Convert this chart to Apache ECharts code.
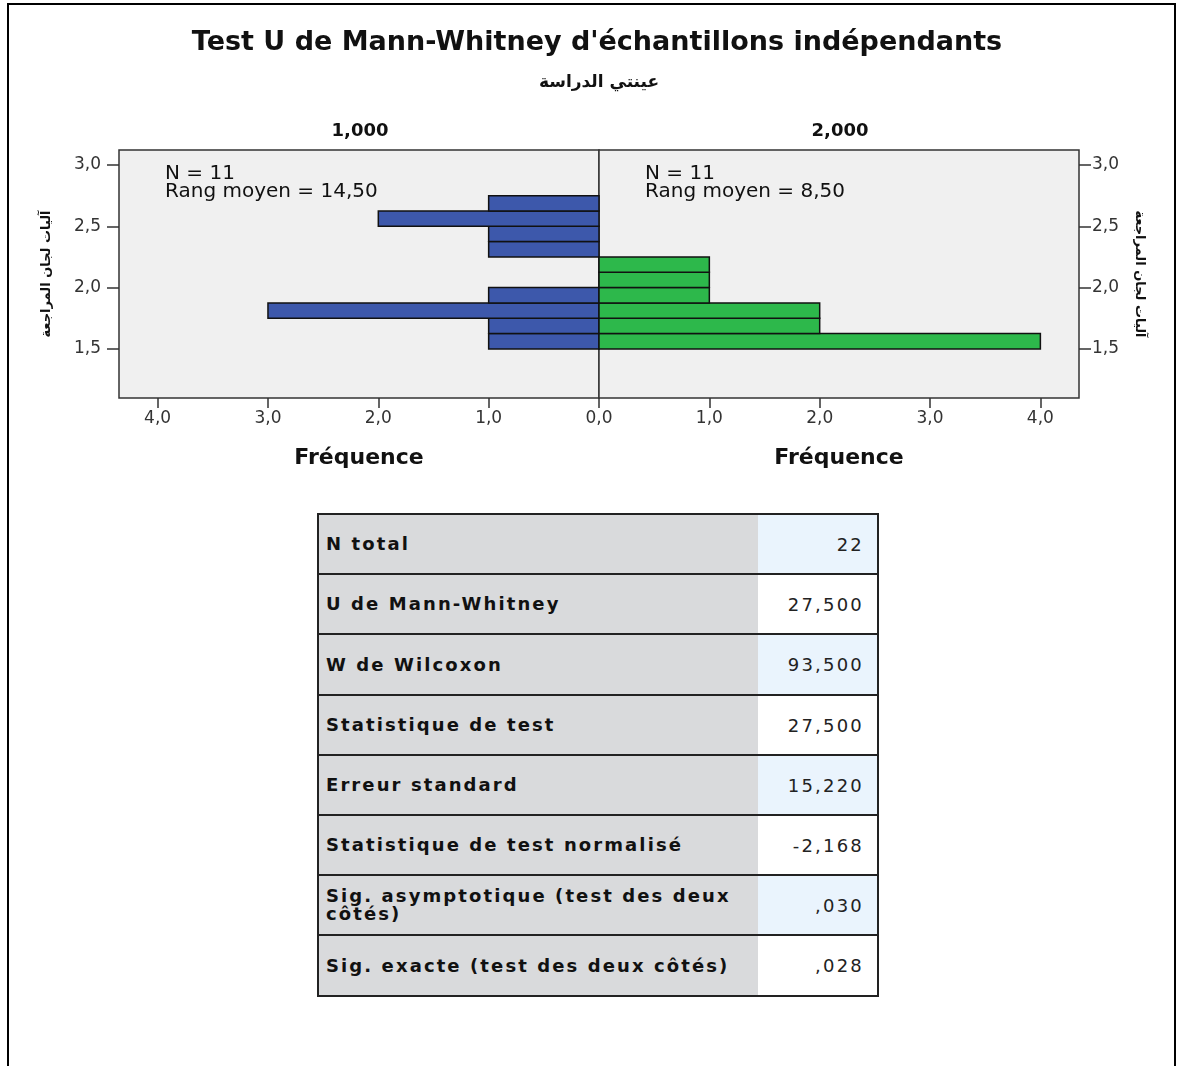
<!DOCTYPE html>
<html>
<head>
<meta charset="utf-8">
<script src="https://cdn.jsdelivr.net/npm/echarts@6/dist/echarts.min.js"></script>
<style>
  html, body { margin:0; padding:0; background:#fff; }
  #frame { position:absolute; left:7px; top:3px; width:1169px; height:1100px; border:2px solid #000; border-bottom:none; box-sizing:border-box; }
  #chart { position:absolute; left:0; top:0; width:1182px; height:490px; }
  #table { position:absolute; left:317px; top:513px; width:562px; }
  .row { position:absolute; left:0; width:562px; box-sizing:border-box; border:2px solid #222; border-top:none; }
  .row.first { border-top:2px solid #222; }
  .lab { position:absolute; left:0; top:0; bottom:0; width:439px; background:#d9dadc; display:flex; align-items:center; padding-left:7px; box-sizing:border-box;
         font-family:"DejaVu Sans"; font-weight:bold; font-size:18px; letter-spacing:2.1px; color:#111; line-height:18px; }
  .val { position:absolute; left:439px; right:0; top:0; bottom:0; display:flex; align-items:center; justify-content:flex-end; padding-right:13px; box-sizing:border-box;
         font-family:"DejaVu Sans"; font-size:18px; letter-spacing:2.2px; color:#222; }
  .blue { background:#eaf4fd; }
</style>
</head>
<body>
<div id="frame"></div>
<div id="chart"></div>
<div id="table"></div>
<script>
// ---- data ----
const binLow  = [1.5, 1.625, 1.75, 1.875, 2.0, 2.125, 2.25, 2.375, 2.5, 2.625];
const binHigh = [1.625, 1.75, 1.875, 2.0, 2.125, 2.25, 2.375, 2.5, 2.625, 2.75];
const group1Counts = [1, 1, 3, 1, 0, 0, 1, 1, 2, 1];   // 1,000 (blue)
const group2Counts = [4, 2, 2, 1, 1, 1, 0, 0, 0, 0];   // 2,000 (green)
const groupNames = ['1,000', '2,000'];
const groupN = ['11', '11'];
const groupMeanRank = ['14,50', '8,50'];
const yTicks = [1.5, 2.0, 2.5, 3.0];
const xTicksLeft = [0, 1, 2, 3, 4];
const xTicksRight = [1, 2, 3, 4];
const statLabels = ['N total', 'U de Mann-Whitney', 'W de Wilcoxon', 'Statistique de test', 'Erreur standard',
                    'Statistique de test normalisé', 'Sig. asymptotique (test des deux<br>côtés)', 'Sig. exacte (test des deux côtés)'];
const statValues = ['22', '27,500', '93,500', '27,500', '15,220', '-2,168', ',030', ',028'];
const titleText = "Test U de Mann-Whitney d'échantillons indépendants";
const subtitleText = 'عينتي الدراسة';
const yName = 'آليات لجان المراجعة';
const xName = 'Fréquence';

// ---- chart ----
const fmt = v => v.toFixed(1).replace('.', ',');
const tickFont = { fontFamily:'DejaVu Sans', fontSize:17, color:'#333' };
const nameFont = { fontFamily:'DejaVu Sans', fontWeight:'bold', fontSize:22, color:'#111' };
const yNameFont = { fontFamily:'DejaVu Sans', fontWeight:'bold', fontSize:13, color:'#111' };

function histData(counts) {
  return counts.map((c, i) => [binLow[i], binHigh[i], c]).filter(d => d[2] > 0);
}
function renderer(color) {
  return function (params, api) {
    const lo = api.value(0), hi = api.value(1), c = api.value(2);
    const p0 = api.coord([0, lo]);
    const p1 = api.coord([c, hi]);
    return {
      type:'rect',
      shape:{ x:Math.min(p0[0], p1[0]), y:p1[1], width:Math.abs(p1[0]-p0[0]), height:p0[1]-p1[1] },
      style:{ fill:color, stroke:'#111', lineWidth:1.5 }
    };
  };
}

const chart = echarts.init(document.getElementById('chart'));
const common = { top:150, height:248, show:true, backgroundColor:'#f0f0f0', borderColor:'#333', borderWidth:1.5 };
const tickStyle = { color:'#333', width:1.5 };
chart.setOption({
  animation:false,
  title:[
    { text:titleText, left:597, textAlign:'center', top:29, padding:0, textStyle:{ fontFamily:'DejaVu Sans', fontWeight:'bold', fontSize:27, color:'#111' } },
    { text:subtitleText, left:599, textAlign:'center', top:74, padding:0, textStyle:{ fontFamily:'DejaVu Sans', fontWeight:'bold', fontSize:17, color:'#111' } },
    { text:groupNames[0], left:360, textAlign:'center', top:122, padding:0, textStyle:{ fontFamily:'DejaVu Sans', fontWeight:'bold', fontSize:18, color:'#111' } },
    { text:groupNames[1], left:840, textAlign:'center', top:122, padding:0, textStyle:{ fontFamily:'DejaVu Sans', fontWeight:'bold', fontSize:18, color:'#111' } }
  ],
  grid:[
    Object.assign({ left:119, width:480 }, common),
    Object.assign({ left:599, width:480 }, common)
  ],
  xAxis:[
    { gridIndex:0, type:'value', inverse:true, min:0, max:4.35, splitLine:{show:false}, axisLine:{show:false, onZero:false},
      axisTick:{ show:true, length:10, customValues:xTicksLeft, lineStyle:tickStyle },
      axisLabel:{ customValues:xTicksLeft, formatter:fmt, margin:12, ...tickFont },
      name:xName, nameLocation:'middle', nameGap:49, nameTextStyle:nameFont },
    { gridIndex:1, type:'value', min:0, max:4.35, splitLine:{show:false}, axisLine:{show:false, onZero:false},
      axisTick:{ show:true, length:10, customValues:xTicksRight, lineStyle:tickStyle },
      axisLabel:{ customValues:xTicksRight, formatter:fmt, margin:12, ...tickFont },
      name:xName, nameLocation:'middle', nameGap:49, nameTextStyle:nameFont }
  ],
  yAxis:[
    { gridIndex:0, type:'value', min:1.1, max:3.122, position:'left', splitLine:{show:false}, axisLine:{show:false, onZero:false},
      axisTick:{ show:true, length:12, customValues:yTicks, lineStyle:tickStyle },
      axisLabel:{ customValues:yTicks, formatter:fmt, margin:18, ...tickFont },
      name:yName, nameLocation:'middle', nameGap:66, nameRotate:90, nameTextStyle:yNameFont },
    { gridIndex:1, type:'value', min:1.1, max:3.122, position:'right', splitLine:{show:false}, axisLine:{show:false, onZero:false},
      axisTick:{ show:true, length:12, customValues:yTicks, lineStyle:tickStyle },
      axisLabel:{ customValues:yTicks, formatter:fmt, margin:13, ...tickFont },
      name:yName, nameLocation:'middle', nameGap:54, nameRotate:-90, nameTextStyle:yNameFont }
  ],
  graphic:[
    { type:'text', left:165, top:164, style:{ text:'N = ' + groupN[0] + '\nRang moyen = ' + groupMeanRank[0],
      font:'20px "DejaVu Sans"', lineHeight:18, fill:'#111' } },
    { type:'text', left:645, top:164, style:{ text:'N = ' + groupN[1] + '\nRang moyen = ' + groupMeanRank[1],
      font:'20px "DejaVu Sans"', lineHeight:18, fill:'#111' } }
  ],
  series:[
    { type:'custom', xAxisIndex:0, yAxisIndex:0, renderItem:renderer('#3d58ab'), encode:{ x:2, y:[0,1] }, data:histData(group1Counts), z:3 },
    { type:'custom', xAxisIndex:1, yAxisIndex:1, renderItem:renderer('#2db84b'), encode:{ x:2, y:[0,1] }, data:histData(group2Counts), z:3 }
  ]
});

// ---- table ----
const tbl = document.getElementById('table');
const rowEdges = [0, 60, 120, 181, 241, 301, 361, 421, 482];
statLabels.forEach((lab, i) => {
  const r = document.createElement('div');
  r.className = 'row' + (i === 0 ? ' first' : '');
  r.style.top = (i === 0 ? rowEdges[i] : rowEdges[i] + 2) + 'px';
  r.style.height = (rowEdges[i+1] - rowEdges[i] + (i === 0 ? 2 : 0)) + 'px';
  r.innerHTML = '<div class="lab">' + lab + '</div><div class="val' + (i % 2 === 0 ? ' blue' : '') + '">' + statValues[i] + '</div>';
  tbl.appendChild(r);
});
</script>
</body>
</html>
